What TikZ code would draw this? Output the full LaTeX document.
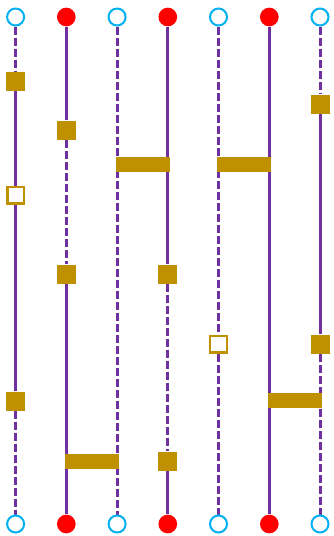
\documentclass[tikz,border=0pt]{standalone}
\usepackage{tikz}
\usetikzlibrary{backgrounds}
\definecolor{wpurple}{HTML}{7030A0}
\definecolor{wgold}{HTML}{BF9000}
\definecolor{wblue}{HTML}{00B0F0}
\definecolor{wred}{HTML}{FF0000}
\tikzset{
  wireon/.style   = {draw=wpurple, line width=3pt},
  wireoff/.style  = {wireon, dash pattern=on 8pt off 3pt},
  openend/.style  = {circle, draw=wblue, fill=white, line width=2pt,
                     minimum size=17pt, inner sep=0pt},
  shutend/.style  = {circle, fill=wred, minimum size=18.7pt, inner sep=0pt},
  gatebox/.style  = {rectangle, fill=wgold, minimum size=19pt, inner sep=0pt},
  gateopen/.style = {rectangle, draw=wgold, fill=white, line width=2.4pt,
                     minimum size=16.6pt, inner sep=0pt},
  gatebar/.style  = {rectangle, fill=wgold, minimum width=54pt,
                     minimum height=15pt, inner sep=0pt},
}

\begin{document}
\begin{tikzpicture}[x=1pt, y=-1pt]
  \useasboundingbox (0,0) rectangle (334,536);
  % end points of the seven wires
  \foreach \i/\xx in {1/15.6, 3/117.1, 5/218.5, 7/320.0}
    {\node[openend] (top\i) at (\xx,17) {};
     \node[openend] (bot\i) at (\xx,524) {};}
  \foreach \i/\xx in {2/66.3, 4/167.8, 6/269.3}
    {\node[shutend] (top\i) at (\xx,17) {};
     \node[shutend] (bot\i) at (\xx,524) {};}
  % single gates
  \node[gatebox]  (s1a) at (15.6,81)   {};
  \node[gateopen] (h1)  at (15.6,195)  {};
  \node[gatebox]  (s1b) at (15.6,401)  {};
  \node[gatebox]  (s2a) at (66.3,130)  {};
  \node[gatebox]  (s2b) at (66.3,274)  {};
  \node[gatebox]  (s4a) at (167.8,274) {};
  \node[gatebox]  (s4b) at (167.8,461) {};
  \node[gateopen] (h5)  at (218.5,344) {};
  \node[gatebox]  (s7a) at (320.0,104) {};
  \node[gatebox]  (s7b) at (320.0,344) {};
  % two-wire gates
  \node[gatebar] (b34) at (142.5,164.5) {};
  \node[gatebar] (b56) at (243.9,164.5) {};
  \node[gatebar] (b67) at (294.6,400)   {};
  \node[gatebar] (b23) at (91.7,461)    {};
  \begin{scope}[on background layer]
    \foreach \a/\b/\s in {top1/s1a/wireoff, s1a/h1/wireon, h1/s1b/wireon,
        s1b/bot1/wireoff, top2/s2a/wireon, s2a/s2b/wireoff, s2b/bot2/wireon,
        top3/bot3/wireoff, top4/s4a/wireon, s4a/s4b/wireoff, s4b/bot4/wireon,
        top5/h5/wireoff, h5/bot5/wireoff, top6/bot6/wireon,
        top7/s7a/wireoff, s7a/s7b/wireon, s7b/bot7/wireoff}
      {\draw[\s] (\a) -- (\b);}
  \end{scope}
\end{tikzpicture}
\end{document}
